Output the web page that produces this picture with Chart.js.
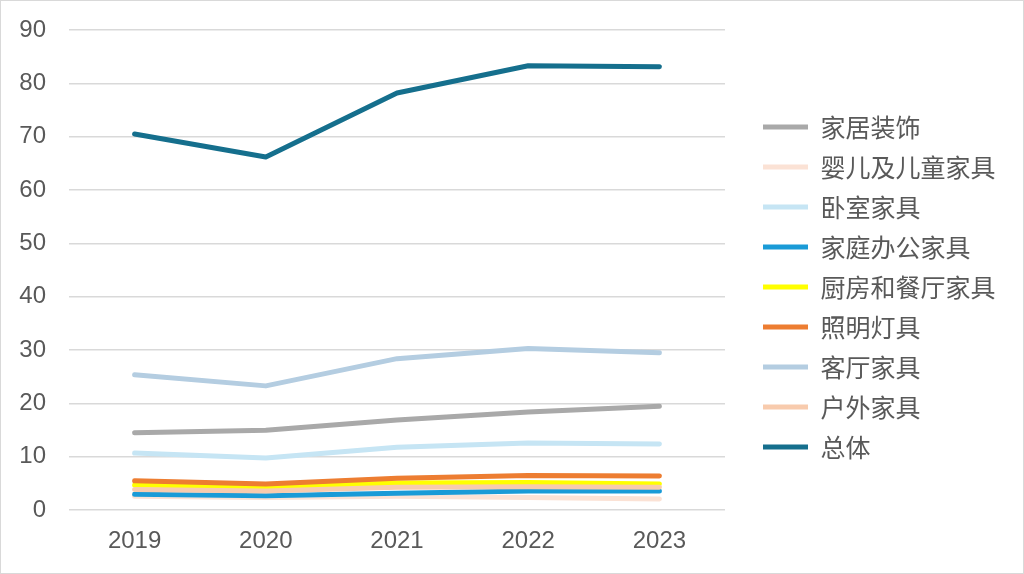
<!DOCTYPE html>
<html>
<head>
<meta charset="utf-8">
<script src="https://cdn.jsdelivr.net/npm/chart.js@4"></script>
<style>
  html, body { margin: 0; padding: 0; background: #fff; }
  #wrap { width: 1024px; height: 574px; box-sizing: border-box; border: 1px solid #d9d9d9; }
</style>
</head>
<body>
<div id="wrap"><canvas id="furnitureChart"></canvas></div>
<script>
// years on the x axis
const years = ["2019", "2020", "2021", "2022", "2023"];

// series names and values
const seriesNames = ["家居装饰", "婴儿及儿童家具", "卧室家具", "家庭办公家具", "厨房和餐厅家具", "照明灯具", "客厅家具", "户外家具", "总体"];
const homeDecor   = [14.5, 15.0, 16.9, 18.4, 19.5];
const babyKids    = [2.6, 2.4, 2.6, 2.4, 2.1];
const bedroom     = [10.7, 9.8, 11.8, 12.6, 12.4];
const homeOffice  = [3.0, 2.7, 3.2, 3.6, 3.6];
const kitchen     = [4.7, 4.3, 5.1, 5.2, 4.9];
const lighting    = [5.5, 4.9, 6.0, 6.5, 6.4];
const livingRoom  = [25.4, 23.3, 28.4, 30.3, 29.5];
const outdoor     = [3.9, 3.6, 4.3, 4.4, 4.3];
const overall     = [70.5, 66.2, 78.2, 83.3, 83.1];

const seriesValues = [homeDecor, babyKids, bedroom, homeOffice, kitchen, lighting, livingRoom, outdoor, overall];
const seriesColors = ["#A9A9A9", "#FBE2D5", "#C6E5F4", "#1A9BD7", "#FFFF00", "#ED7D31", "#B4CDE1", "#F8CBAD", "#156F8D"];

const tickFont = { family: "'Liberation Sans', Arial, sans-serif", size: 24 };

document.addEventListener("DOMContentLoaded", function () {
    let datasets = seriesNames.map((name, i) => ({
        label: name,
        data: seriesValues[i],
        borderColor: seriesColors[i],
        backgroundColor: seriesColors[i],
        borderWidth: 5,
        borderCapStyle: "round",
        borderJoinStyle: "round",
        pointRadius: 0,
        pointHoverRadius: 0,
        tension: 0,
        order: seriesNames.length - i // later series drawn on top, like Excel
    }));

    let ctx = document.getElementById("furnitureChart").getContext("2d");
    new Chart(ctx, {
        type: "line",
        data: { labels: years, datasets: datasets },
        options: {
            responsive: true,
            maintainAspectRatio: false,
            animation: false,
            layout: { padding: { top: 0, left: 0, right: 26, bottom: 0 } },
            plugins: {
                tooltip: { enabled: false },
                legend: {
                    position: "right",
                    labels: {
                        usePointStyle: true,
                        pointStyle: "line",
                        pointStyleWidth: 45,
                        padding: 15,
                        color: "#595959",
                        font: { family: "'Noto Sans CJK SC', 'Liberation Sans', sans-serif", size: 25 },
                        sort: (a, b) => a.datasetIndex - b.datasetIndex
                    }
                }
            },
            scales: {
                x: {
                    offset: true,
                    grid: { display: false, drawTicks: false },
                    border: { display: false },
                    ticks: { color: "#595959", padding: 17, font: tickFont }
                },
                y: {
                    min: 0,
                    max: 90,
                    grid: { color: "#D9D9D9", lineWidth: 1.5, drawTicks: false },
                    border: { display: false },
                    ticks: { stepSize: 10, color: "#595959", padding: 23, font: tickFont },
                    afterFit: function (scale) {
                        scale.width = 68;
                        scale.paddingTop = 29;
                        scale.paddingBottom = 0;
                    }
                },
                // empty spacer between plot and legend (hidden, so it does not squeeze the legend)
                gap: {
                    type: "linear",
                    position: "right",
                    display: false,
                    afterFit: function (scale) { scale.width = 23; }
                }
            }
        }
    });
});
</script>
</body>
</html>
